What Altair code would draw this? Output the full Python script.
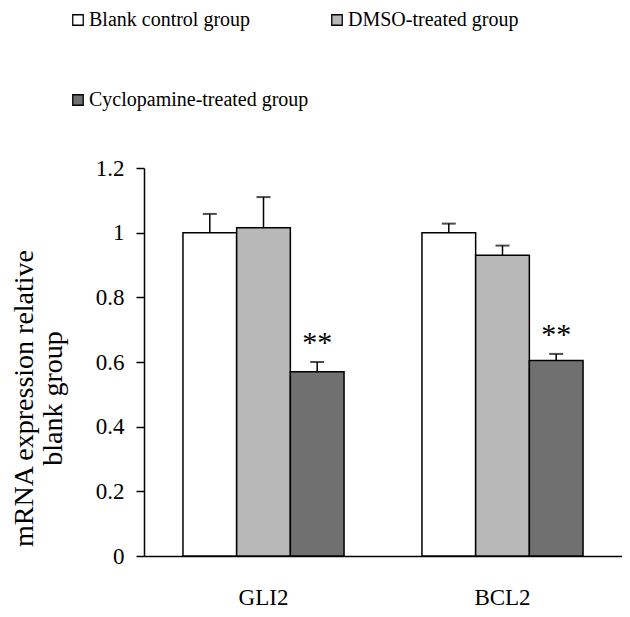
import altair as alt
import pandas as pd

genes = ["GLI2", "BCL2"]
groups = ["Blank control group", "DMSO-treated group", "Cyclopamine-treated group"]
colors = ["#ffffff", "#b8b8b8", "#707070"]
legend_order = ["Blank control group", "Cyclopamine-treated group", "DMSO-treated group"]
legend_colors = ["#ffffff", "#707070", "#b8b8b8"]
means_gli2 = [1.0, 1.015, 0.57]
err_gli2 = [0.058, 0.095, 0.03]
means_bcl2 = [1.0, 0.93, 0.605]
err_bcl2 = [0.028, 0.03, 0.02]
signif = ["", "", "**"]
y_ticks = [0, 0.2, 0.4, 0.6, 0.8, 1.0, 1.2]

rows = []
for gene, means, errs in [("GLI2", means_gli2, err_gli2), ("BCL2", means_bcl2, err_bcl2)]:
    for g, m, e, s in zip(groups, means, errs, signif):
        rows.append({"gene": gene, "group": g, "mean": m, "upper": m + e, "sig": s})
df = pd.DataFrame(rows)

FONT = "Liberation Serif"

x_enc = alt.X("gene:N", sort=genes,
              scale=alt.Scale(domain=genes, paddingInner=0.326, paddingOuter=0.163),
              axis=alt.Axis(title=None, ticks=False, labelAngle=0, labelFont=FONT,
                            labelFontSize=23, labelColor="black", labelPadding=30,
                            labelBaseline="top"))
xo_enc = alt.XOffset("group:N", sort=groups,
                     scale=alt.Scale(domain=groups, paddingInner=0, paddingOuter=0))
y_scale = alt.Scale(domain=[0, 1.2], nice=False)

bars = alt.Chart(df).mark_bar(stroke="black", strokeWidth=1.5).encode(
    x=x_enc,
    xOffset=xo_enc,
    y=alt.Y("mean:Q", scale=y_scale,
            axis=alt.Axis(values=y_ticks, format=".1~f", grid=False,
                          title=["mRNA expression relative", "blank group"],
                          titleFont=FONT, titleFontSize=28, titleFontWeight="normal",
                          titleColor="black", titleLineHeight=29, titleAngle=-90,
                          titleAlign="center", titleBaseline="top",
                          titleX=-134, titleY=230,
                          labelFont=FONT, labelFontSize=23, labelColor="black",
                          labelPadding=12, tickSize=8)),
    color=alt.Color("group:N",
                    scale=alt.Scale(domain=legend_order, range=legend_colors),
                    legend=alt.Legend(title=None, orient="none", legendX=-76, legendY=-158,
                                      columns=2, symbolType="square", symbolSize=110,
                                      symbolStrokeColor="black", symbolStrokeWidth=1.3,
                                      labelFont=FONT, labelFontSize=20, labelColor="black",
                                      labelOffset=1, rowPadding=60, columnPadding=18,
                                      labelLimit=400)),
)

err_rule = alt.Chart(df).mark_rule(color="black", strokeWidth=1.5).encode(
    x=x_enc, xOffset=xo_enc,
    y=alt.Y("mean:Q", scale=y_scale), y2="upper:Q",
)

caps = alt.Chart(df).mark_tick(color="black", orient="horizontal", size=14, thickness=2).encode(
    x=x_enc, xOffset=xo_enc,
    y=alt.Y("upper:Q", scale=y_scale),
)

stars = alt.Chart(df).transform_filter(alt.datum.sig != "").mark_text(
    font=FONT, fontSize=30, color="black", baseline="alphabetic", dy=-10
).encode(
    x=x_enc, xOffset=xo_enc,
    y=alt.Y("upper:Q", scale=y_scale),
    text="sig:N",
)

chart = alt.layer(bars, err_rule, caps, stars).properties(
    width=478, height=388,
    autosize=alt.AutoSizeParams(type="none"),
    padding={"left": 136, "top": 160, "right": 0, "bottom": 53},
).configure_view(stroke=None).configure_axis(
    domainColor="black", domainWidth=1.5, tickColor="black", tickWidth=1.5
)

chart.save("out.html", embed_options={"renderer": "svg", "actions": False})
